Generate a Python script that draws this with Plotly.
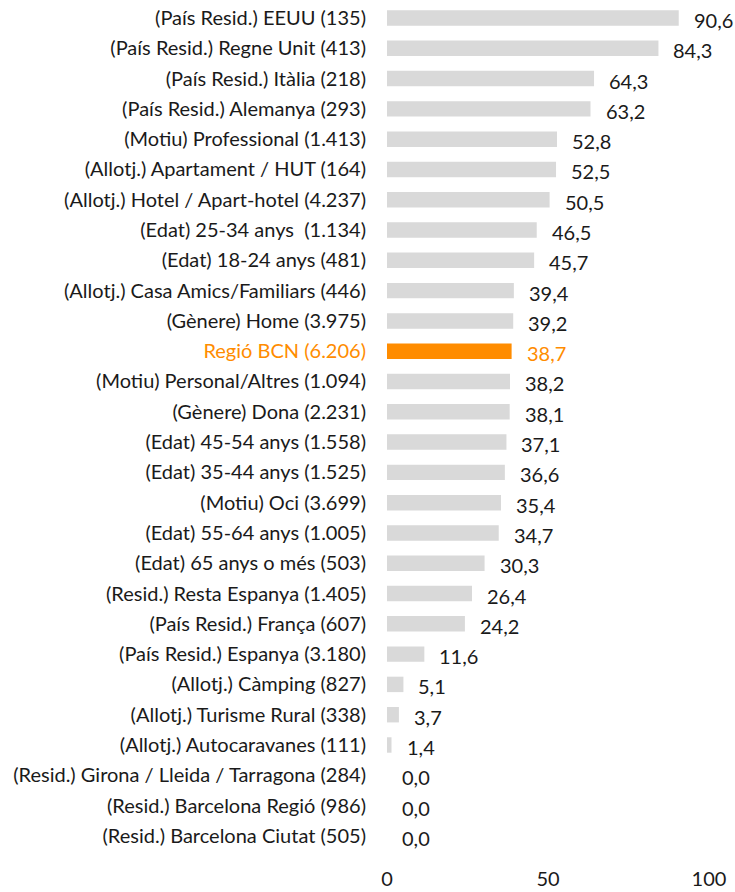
import plotly.graph_objects as go

categories = [
    "(País Resid.) EEUU (135)",
    "(País Resid.) Regne Unit (413)",
    "(País Resid.) Itàlia (218)",
    "(País Resid.) Alemanya (293)",
    "(Motiu) Professional (1.413)",
    "(Allotj.) Apartament / HUT (164)",
    "(Allotj.) Hotel / Apart-hotel (4.237)",
    "(Edat) 25-34 anys  (1.134)",
    "(Edat) 18-24 anys (481)",
    "(Allotj.) Casa Amics/Familiars (446)",
    "(Gènere) Home (3.975)",
    "Regió BCN (6.206)",
    "(Motiu) Personal/Altres (1.094)",
    "(Gènere) Dona (2.231)",
    "(Edat) 45-54 anys (1.558)",
    "(Edat) 35-44 anys (1.525)",
    "(Motiu) Oci (3.699)",
    "(Edat) 55-64 anys (1.005)",
    "(Edat) 65 anys o més (503)",
    "(Resid.) Resta Espanya (1.405)",
    "(País Resid.) França (607)",
    "(País Resid.) Espanya (3.180)",
    "(Allotj.) Càmping (827)",
    "(Allotj.) Turisme Rural (338)",
    "(Allotj.) Autocaravanes (111)",
    "(Resid.) Girona / Lleida / Tarragona (284)",
    "(Resid.) Barcelona Regió (986)",
    "(Resid.) Barcelona Ciutat (505)",
]
values = [90.6, 84.3, 64.3, 63.2, 52.8, 52.5, 50.5, 46.5, 45.7, 39.4, 39.2, 38.7,
          38.2, 38.1, 37.1, 36.6, 35.4, 34.7, 30.3, 26.4, 24.2, 11.6, 5.1, 3.7, 1.4,
          0.0, 0.0, 0.0]
highlight = "Regió BCN (6.206)"
x_ticks = [0, 50, 100]

GREY = "#D9D9D9"
ORANGE = "#FF8C00"
TEXT = "#1A1A1A"
FONT = "Lato, Open Sans, sans-serif"
SIZE = 20

bar_colors = [ORANGE if c == highlight else GREY for c in categories]
tick_text = [f'<span style="color:{ORANGE}">{c}</span>' if c == highlight else c
             for c in categories]

fig = go.Figure(go.Bar(
    x=values,
    y=categories,
    orientation="h",
    marker=dict(color=bar_colors, line=dict(width=0)),
    hoverinfo="skip",
))

# value labels just past the end of each bar
for c, v in zip(categories, values):
    fig.add_annotation(
        x=v, y=c, xref="x", yref="y",
        text=f"{v:.1f}".replace(".", ","),
        showarrow=False, xanchor="left", yanchor="middle",
        xshift=13, yshift=-2,
        font=dict(family=FONT, size=SIZE, color=ORANGE if c == highlight else TEXT),
    )

fig.update_layout(
    width=735, height=892,
    margin=dict(l=387, r=26, t=2, b=38),
    plot_bgcolor="white", paper_bgcolor="white",
    bargap=0.49,
    showlegend=False,
    font=dict(family=FONT, size=SIZE, color=TEXT),
)
fig.update_xaxes(
    range=[0, 100], tickvals=x_ticks, ticktext=[str(t) for t in x_ticks],
    showgrid=False, zeroline=False, showline=False,
    ticks="outside", ticklen=10, tickcolor="rgba(0,0,0,0)",
    tickfont=dict(family=FONT, size=SIZE, color=TEXT),
)
fig.update_yaxes(
    categoryorder="array", categoryarray=categories, autorange="reversed",
    tickvals=categories, ticktext=tick_text,
    showgrid=False, zeroline=False, showline=False,
    ticks="outside", ticklen=16, tickcolor="rgba(0,0,0,0)",
    tickfont=dict(family=FONT, size=SIZE, color=TEXT),
)

fig.write_html("out.html")
